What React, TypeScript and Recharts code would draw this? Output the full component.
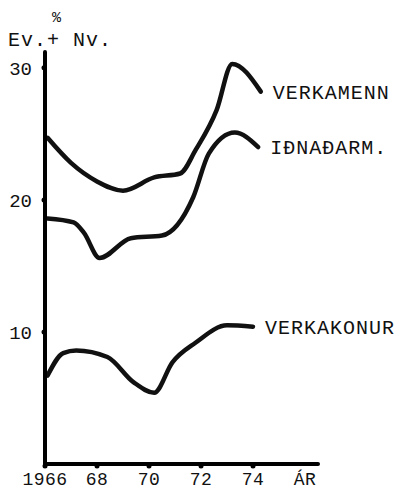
import React from "react";
import { LineChart, Line, XAxis, YAxis, LabelList } from "recharts";

const verkamennYears = [1966.1, 1967.0, 1968.0, 1969.0, 1970.2, 1971.2, 1971.8, 1972.6, 1973.2, 1974.3];
const verkamennValues = [24.7, 22.8, 21.4, 20.7, 21.7, 22.0, 23.8, 26.8, 30.3, 28.2];

const idnadarmYears = [1966.1, 1967.1, 1967.5, 1968.1, 1969.3, 1970.5, 1971.7, 1972.3, 1973.3, 1974.2];
const idnadarmValues = [18.6, 18.3, 17.5, 15.6, 17.1, 17.3, 20.2, 23.5, 25.1, 24.0];

const verkakonurYears = [1966.1, 1966.7, 1967.2, 1968.4, 1969.4, 1970.2, 1970.9, 1971.8, 1973.0, 1974.0];
const verkakonurValues = [6.7, 8.4, 8.6, 8.1, 6.2, 5.4, 7.7, 9.2, 10.5, 10.4];

const seriesNames = ["VERKAMENN", "IÐNAÐARM.", "VERKAKONUR"];

const xTicks = [1966, 1968, 1970, 1972, 1974, 1976];
const xTickLabels = ["1966", "68", "70", "72", "74", "ÁR"];
const yTicks = [10, 20, 30];

const toRows = (years: number[], values: number[]) =>
  years.map((y, i) => ({ year: y, value: values[i] }));

const series = [
  toRows(verkamennYears, verkamennValues),
  toRows(idnadarmYears, idnadarmValues),
  toRows(verkakonurYears, verkakonurValues),
];

const FONT = "'Liberation Mono', 'DejaVu Sans Mono', monospace";

const XTick = (props: any) => {
  const { x, y, payload } = props;
  const idx = xTicks.indexOf(payload.value);
  const label = xTickLabels[idx] ?? "";
  const isUnit = label === "ÁR";
  return (
    <g>
      {!isUnit && <circle cx={x} cy={y - 6} r={2.5} fill="#000" />}
      <text
        x={x}
        y={y + 13}
        textAnchor="middle"
        fontFamily={FONT}
        fontSize={18}
        letterSpacing={0.5}
        fill="#111"
      >
        {label}
      </text>
    </g>
  );
};

const YTick = (props: any) => {
  const { x, y, payload } = props;
  return (
    <g>
      <circle cx={x + 4} cy={y} r={2.5} fill="#000" />
      <text
        x={x - 8}
        y={y + 7}
        textAnchor="end"
        fontFamily={FONT}
        fontSize={19}
        fill="#111"
      >
        {payload.value}
      </text>
    </g>
  );
};

const makeEndLabel = (name: string, lastIndex: number) => (props: any) => {
  const { x, y, index } = props;
  if (index !== lastIndex) return null;
  return (
    <text
      x={x + 12}
      y={y + 7}
      fontFamily={FONT}
      fontSize={20}
      letterSpacing={1}
      fill="#111"
    >
      {name}
    </text>
  );
};

export default function App() {
  return (
    <div style={{ position: "relative", width: 397, height: 487 }}>
      <div
        style={{
          position: "absolute",
          left: 44,
          top: 2,
          fontFamily: FONT,
          fontSize: 15,
          color: "#111",
        }}
      >
        %
      </div>
      <div
        style={{
          position: "absolute",
          left: 0,
          top: 21,
          fontFamily: FONT,
          fontSize: 20,
          letterSpacing: 1,
          color: "#111",
          whiteSpace: "pre",
        }}
      >
        {"Ev.+ Nv."}
      </div>
      <LineChart
        width={397}
        height={487}
        margin={{ top: 44, right: 87, bottom: 0, left: 0 }}
        style={{ position: "absolute", left: 0, top: 0 }}
      >
        <XAxis
          type="number"
          dataKey="year"
          domain={[1966, 1976.5]}
          ticks={xTicks}
          tick={<XTick />}
          tickLine={false}
          axisLine={{ stroke: "#000", strokeWidth: 4, strokeLinecap: "round" }}
          height={31}
          allowDuplicatedCategory={false}
        />
        <YAxis
          type="number"
          domain={[0, 31.2]}
          ticks={yTicks}
          tick={<YTick />}
          tickLine={false}
          axisLine={{ stroke: "#000", strokeWidth: 4, strokeLinecap: "round" }}
          width={37}
          tickSize={3}
        />
        {series.map((rows, i) => (
          <Line
            key={seriesNames[i]}
            data={rows}
            dataKey="value"
            type="monotone"
            stroke="#111"
            strokeWidth={4.5}
            strokeLinecap="round"
            strokeLinejoin="round"
            dot={false}
            isAnimationActive={false}
          >
            <LabelList
              dataKey="value"
              content={makeEndLabel(seriesNames[i], rows.length - 1)}
            />
          </Line>
        ))}
      </LineChart>
    </div>
  );
}
